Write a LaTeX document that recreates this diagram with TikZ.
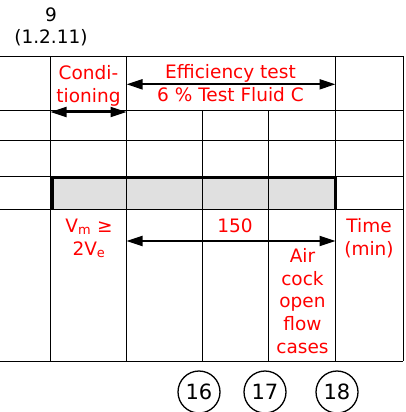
\documentclass[tikz,border=0pt]{standalone}
\usepackage{fontspec}
\setmainfont{DejaVu Sans}
\usetikzlibrary{arrows.meta}

\begin{document}
\begin{tikzpicture}[
    x=1pt, y=-1pt,
    every node/.style={font=\fontsize{18.5}{22.6}\selectfont, inner sep=0pt},
    rule/.style={line width=1pt},
    heavyrule/.style={line width=3.6pt},
    note/.style={text=red, align=center, anchor=base},
    dimarrow/.style={{Triangle[length=16pt, width=10pt]}-{Triangle[length=16pt, width=10pt]}, line width=2pt},
    stepno/.style={circle, draw, line width=1.3pt, minimum size=42pt, font=\fontsize{21}{24}\selectfont}
]

% Page size
\useasboundingbox (0,0) rectangle (406,412);

% Shaded row
\fill[black!12] (50.5,176) rectangle (335.5,209);

% Horizontal rules
\foreach \y in {56.5,110,140,176,209,361}
    \draw[rule] (0,\y) -- (403,\y);

% Vertical rules
\foreach \x in {50.5,126.5,335.5,403}
    \draw[rule] (\x,56.5) -- (\x,361);
\foreach \x in {202.5,268.5}
    \draw[rule] (\x,110) -- (\x,361);

% Heavy frame round the shaded row
\draw[heavyrule] (52,209) -- (52,177.5) -- (335.5,177.5) -- (335.5,209);

% Column heading
\node[align=center, anchor=base] (clause) at (51,44) {9\\(1.2.11)};

% Conditioning
\node[note] (cond) at (88.5,102) {Condi-\\tioning};
\coordinate (condL) at (50.5,112);
\coordinate (condR) at (126.5,112);
\draw[dimarrow] (condL) -- (condR);

% Efficiency test
\node[note] (eff) at (230.5,101.5) {Efficiency test\\6 \% Test Fluid C};
\coordinate (effL) at (126.5,84.3);
\coordinate (effR) at (335.5,84.3);
\draw[dimarrow] (effL) -- (effR);

% Volumes and times
\node[note] (vol) at (89,255) {V\textsubscript{m} ≥\\2V\textsubscript{e}};
\node[note] (dur) at (235,232.3) {150};
\coordinate (durL) at (126.5,241);
\coordinate (durR) at (335.5,241);
\draw[dimarrow] (durL) -- (durR);
\node[note] (air) at (302.5,353) {Air\\cock\\open\\flow\\cases};
\node[note] (time) at (369,255) {Time\\(min)};

% Step numbers
\node[stepno] (s16) at (199,392) {16};
\node[stepno] (s17) at (265,392) {17};
\node[stepno] (s18) at (337,392) {18};

\end{tikzpicture}
\end{document}
